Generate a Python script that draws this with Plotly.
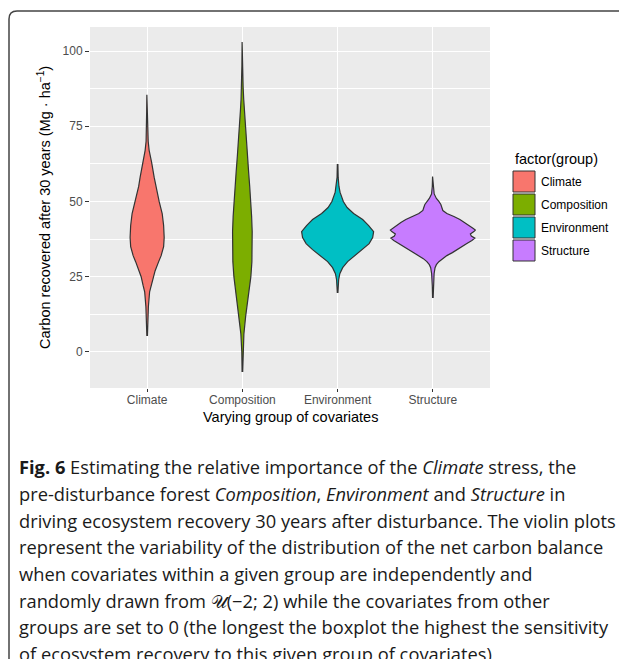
import plotly.graph_objects as go

# === data ===
groups = ["Climate", "Composition", "Environment", "Structure"]
colors = ["#F8766D", "#7CAE00", "#00BFC4", "#C77CFF"]

# violin outline: carbon value (Mg/ha) and half-width (in category units)
climate_y = [5.3, 10, 15, 20, 22, 25, 27, 30, 32, 35, 38, 42, 46, 50, 55, 58, 63, 67, 70, 75, 80, 85.5]
climate_w = [0.003, 0.007, 0.013, 0.026, 0.042, 0.063, 0.084, 0.121, 0.147, 0.173, 0.179, 0.173,
             0.158, 0.126, 0.089, 0.074, 0.047, 0.021, 0.011, 0.007, 0.005, 0.003]

composition_y = [-6.7, 0, 3, 6, 12, 17, 20, 25, 30, 35, 40, 45, 50, 55, 60, 65, 72, 80, 84, 88, 95, 103]
composition_w = [0.003, 0.006, 0.011, 0.016, 0.035, 0.058, 0.071, 0.089, 0.100, 0.105, 0.103, 0.097,
                 0.089, 0.077, 0.065, 0.053, 0.035, 0.021, 0.014, 0.008, 0.005, 0.003]

environment_y = [19.6, 24, 26, 28, 30, 32, 34, 36, 38, 40, 42, 44, 46, 48, 50, 53, 55, 58, 62.3]
environment_w = [0.003, 0.011, 0.023, 0.053, 0.105, 0.179, 0.263, 0.331, 0.368, 0.378, 0.326, 0.263,
                 0.168, 0.100, 0.060, 0.026, 0.014, 0.006, 0.003]

structure_y = [17.9, 22, 26, 28, 29, 30, 31, 32, 33, 34, 35, 36, 37, 37.8, 38.5, 39.2, 40, 40.5, 41,
               42, 43, 44, 45, 46, 47, 48, 49, 50, 51, 52.5, 55, 58.3]
structure_w = [0.003, 0.006, 0.013, 0.023, 0.037, 0.063, 0.100, 0.147, 0.205, 0.252, 0.305, 0.357,
               0.410, 0.441, 0.404, 0.394, 0.431, 0.446, 0.425, 0.378, 0.336, 0.284, 0.221, 0.147,
               0.105, 0.095, 0.084, 0.063, 0.037, 0.014, 0.006, 0.003]

y_ticks = [0, 25, 50, 75, 100]
y_minor = [12.5, 37.5, 62.5, 87.5]

caption = [
    "<b>Fig. 6</b> Estimating the relative importance of the <i>Climate</i> stress, the",
    "pre-disturbance forest <i>Composition</i>, <i>Environment</i> and <i>Structure</i> in",
    "driving ecosystem recovery 30 years after disturbance. The violin plots",
    "represent the variability of the distribution of the net carbon balance",
    "when covariates within a given group are independently and",
    "randomly drawn from 𝒰(−2; 2) while the covariates from other",
    "groups are set to 0 (the longest the boxplot the highest the sensitivity",
    "of ecosystem recovery to this given group of covariates)",
]

profiles = [(climate_y, climate_w), (composition_y, composition_w),
            (environment_y, environment_w), (structure_y, structure_w)]

# the page body has an 8px margin, so the figure starts at (8, 8) on the page
OFF = 8
W, H = 627 - OFF, 659 - OFF
# plot area in page pixels
L, R, T, B = 90, 490, 27, 388


def px(x):
    return (x - L) / (R - L)


def py(y):
    return (B - y) / (B - T)


fig = go.Figure()

for i, (g, c, (ys, ws)) in enumerate(zip(groups, colors, profiles)):
    pos = i + 1
    xs = [pos + w for w in ws] + [pos - w for w in ws[::-1]]
    yy = list(ys) + list(ys[::-1])
    fig.add_trace(go.Scatter(
        x=xs, y=yy, mode="lines", fill="toself", fillcolor=c,
        line=dict(color="#333333", width=1.2), name=g, showlegend=False,
        hoverinfo="skip"
    ))

fig.update_layout(
    width=W, height=H,
    margin=dict(l=L - OFF, r=W + OFF - R, t=T - OFF, b=H + OFF - B),
    paper_bgcolor="white", plot_bgcolor="#EBEBEB",
    font=dict(family="Liberation Sans, Arial, sans-serif", color="#4D4D4D", size=12),
    showlegend=False,
)
fig.update_xaxes(
    range=[0.4, 4.6], tickvals=[1, 2, 3, 4], ticktext=groups,
    showgrid=True, gridcolor="white", gridwidth=1.3, zeroline=False,
    ticks="outside", ticklen=3, tickcolor="#333333", tickwidth=1,
    ticklabelstandoff=-2,
    tickfont=dict(size=12, color="#4D4D4D"),
)
fig.update_yaxes(
    range=[-12, 108], tickvals=y_ticks,
    showgrid=True, gridcolor="white", gridwidth=1.3, zeroline=False,
    ticks="outside", ticklen=4, tickcolor="#333333", tickwidth=1,
    tickfont=dict(size=12, color="#4D4D4D"),
    minor=dict(tickvals=y_minor, showgrid=True, gridcolor="white",
               gridwidth=0.6, ticks=""),
)

ann = []
# axis titles
ann.append(dict(text="Varying group of covariates", x=px(290), y=py(417), xref="paper", yref="paper",
                xanchor="center", yanchor="middle", showarrow=False,
                font=dict(size=14.5, color="black")))
ann.append(dict(text="Carbon recovered after 30 years (Mg · ha<sup>−1</sup>)", x=px(44), y=py(208),
                xref="paper", yref="paper", xanchor="center", yanchor="middle",
                textangle=-90, showarrow=False, font=dict(size=14.5, color="black")))

# legend drawn by hand (ggplot style keys)
ann.append(dict(text="factor(group)", x=px(513), y=py(159), xref="paper", yref="paper",
                xanchor="left", yanchor="middle", showarrow=False,
                font=dict(size=14.5, color="black")))
shapes = []
for i, (g, c) in enumerate(zip(groups, colors)):
    top = 171 + 23 * i
    shapes.append(dict(type="rect", xref="paper", yref="paper",
                       x0=px(513), x1=px(535), y0=py(top + 21), y1=py(top),
                       fillcolor=c, line=dict(color="#333333", width=1)))
    ann.append(dict(text=g, x=px(539), y=py(top + 10.5), xref="paper", yref="paper",
                    xanchor="left", yanchor="middle", showarrow=False,
                    font=dict(size=12, color="black")))

# rounded frame around figure + caption
r = 8
fx0, fy0 = 9, 11
path = (f"M {px(fx0)},{py(700)} L {px(fx0)},{py(fy0 + r)} "
        f"Q {px(fx0)},{py(fy0)} {px(fx0 + r)},{py(fy0)} L {px(700)},{py(fy0)}")
shapes.append(dict(type="path", xref="paper", yref="paper", path=path,
                   line=dict(color="#444444", width=1.5)))

# caption
for i, line in enumerate(caption):
    ann.append(dict(text=line, x=px(17), y=py(467 + 26.6 * i), xref="paper", yref="paper",
                    xanchor="left", yanchor="middle", showarrow=False,
                    font=dict(family="Open Sans, sans-serif", size=18.3, color="#1a1a1a")))

fig.update_layout(annotations=ann, shapes=shapes)

fig.write_html("out.html")
